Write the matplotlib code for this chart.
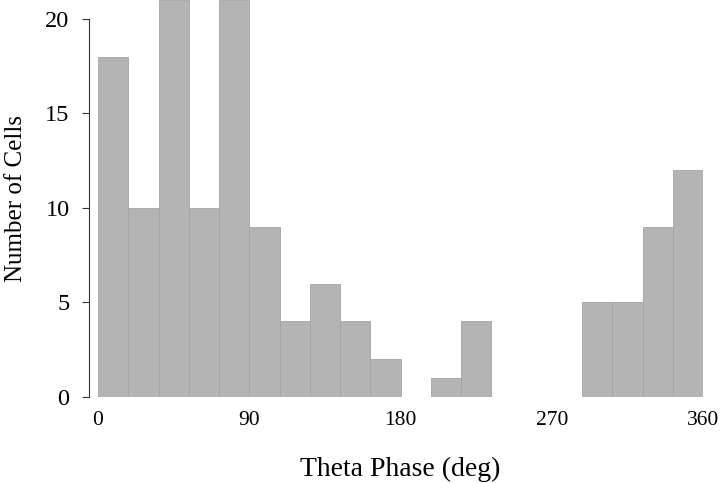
import matplotlib
matplotlib.use("Agg")
import matplotlib.pyplot as plt
import numpy as np

bin_edges = list(range(0, 361, 18))
counts = [18, 10, 21, 10, 21, 9, 4, 6, 4, 2, 0, 1, 4, 0, 0, 0, 5, 5, 9, 12]
xticks = [0, 90, 180, 270, 360]
yticks = [0, 5, 10, 15, 20]

plt.rcParams['font.family'] = ['Liberation Serif', 'DejaVu Serif']

fig = plt.figure(figsize=(7.2, 4.83), dpi=100)
ax = fig.add_axes([98/720, 1 - 397/483, 605/720, 397/483])

lefts = np.array(bin_edges[:-1])
widths = np.diff(bin_edges)
ax.bar(lefts, counts, width=widths, align='edge', color='#b4b4b4',
       edgecolor='#a4a4a4', linewidth=0.6)

ax.set_xlim(0, 360)
ax.set_ylim(0, 21)
ax.set_xticks(xticks)
ax.set_yticks(yticks)
ax.tick_params(axis='x', length=0, labelsize=15.5, pad=10)
ax.tick_params(axis='y', length=5, width=0.8, labelsize=17.5, pad=9, color='#333333')

for s in ['top', 'right', 'bottom']:
    ax.spines[s].set_visible(False)
ax.spines['left'].set_position(('outward', 6.5))
ax.spines['left'].set_bounds(0, 20)
ax.spines['left'].set_linewidth(0.8)
ax.spines['left'].set_color('#333333')

ax.set_xlabel('Theta Phase (deg)', fontsize=20, labelpad=19.5)
ax.set_ylabel('Number of Cells', fontsize=18, labelpad=13)

fig.savefig('out.png', dpi=100)
